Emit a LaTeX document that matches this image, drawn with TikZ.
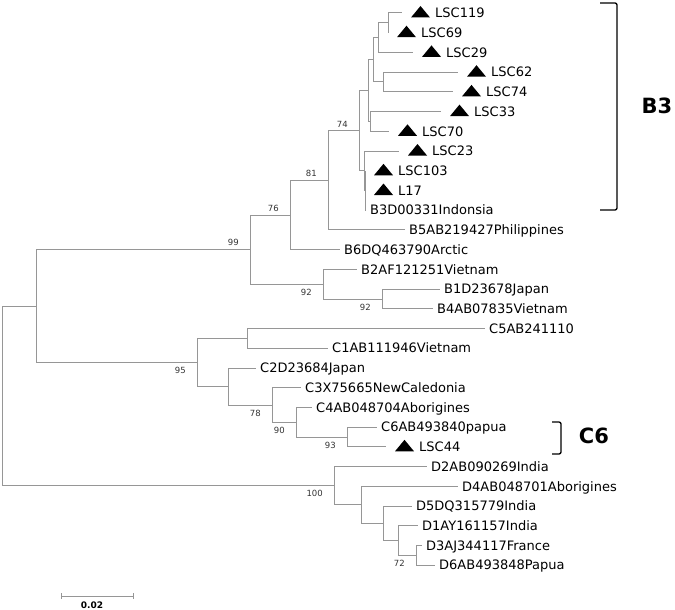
\documentclass[tikz,border=0pt]{standalone}
\usepackage{fontspec}
\setmainfont{DejaVu Sans}
\usetikzlibrary{positioning,calc}
\definecolor{branchgray}{RGB}{150,150,150}
\tikzset{
  br/.style={draw=branchgray,line width=1pt},
  leaf/.style={anchor=west,inner xsep=4pt,inner ysep=1pt,
               text height=9.5pt,text depth=0pt,font=\fontsize{13}{15}\selectfont},
  lscleaf/.style={leaf,inner xsep=33pt},
  bs/.style={inner sep=0pt,font=\fontsize{8.5}{10}\selectfont,text=black!80},
  clade/.style={font=\fontsize{21}{24}\selectfont\bfseries},
  brk/.style={draw=black,line width=1.3pt,rounded corners=2pt},
}
\begin{document}
\begin{tikzpicture}[x=1pt,y=-1pt]
  \useasboundingbox (0,0) rectangle (675,610);
  % internal nodes of the tree
  \coordinate (nroot) at (2,395.9);
  \coordinate (nbc) at (36,306);
  \coordinate (nb) at (250,249.6);
  \coordinate (nb76) at (290,215);
  \coordinate (nb81) at (328,180.3);
  \coordinate (nb74) at (359,130.7);
  \coordinate (nlsca) at (368,90.6);
  \coordinate (nlscb) at (373,59.8);
  \coordinate (nlscc) at (378,37.6);
  \coordinate (nlscd) at (388,22.9);
  \coordinate (nlsce) at (383,82);
  \coordinate (nlscf) at (370,121.5);
  \coordinate (nlscg) at (364,170.8);
  \coordinate (nlsch) at (365,190.5);
  \coordinate (nb92) at (323,284.2);
  \coordinate (nb92b) at (382,299);
  \coordinate (nc95) at (197,362.5);
  \coordinate (nc5) at (247,338.4);
  \coordinate (nc2) at (228,386.5);
  \coordinate (nc78) at (272,405);
  \coordinate (nc90) at (296,422.2);
  \coordinate (nc93) at (347,437);
  \coordinate (nd100) at (334,485.7);
  \coordinate (nd4) at (361,504.8);
  \coordinate (nd5) at (383,523.3);
  \coordinate (nd1) at (398,540.5);
  \coordinate (nd72) at (416,555.3);

  % leaves
  \node[lscleaf] (lsc119) at (402,13) {LSC119};
  \node[lscleaf] (lsc69) at (388,32.7) {LSC69};
  \node[lscleaf] (lsc29) at (413,52.4) {LSC29};
  \node[lscleaf] (lsc62) at (458,72.2) {LSC62};
  \node[lscleaf] (lsc74) at (453,91.9) {LSC74};
  \node[lscleaf] (lsc33) at (441,111.6) {LSC33};
  \node[lscleaf] (lsc70) at (389,131.3) {LSC70};
  \node[lscleaf] (lsc23) at (399,151) {LSC23};
  \node[lscleaf] (lsc103) at (365,170.8) {LSC103};
  \node[lscleaf] (l17) at (365,190.5) {L17};
  \node[leaf] (b3d) at (366,210.2) {B3D00331Indonsia};
  \node[leaf] (b5) at (405,229.9) {B5AB219427Philippines};
  \node[leaf] (b6) at (340,249.6) {B6DQ463790Arctic};
  \node[leaf] (b2) at (357,269.4) {B2AF121251Vietnam};
  \node[leaf] (b1) at (440,289.1) {B1D23678Japan};
  \node[leaf] (b4) at (433,308.8) {B4AB07835Vietnam};
  \node[leaf] (c5) at (485,328.5) {C5AB241110};
  \node[leaf] (c1) at (328,348.2) {C1AB111946Vietnam};
  \node[leaf] (c2) at (256,368) {C2D23684Japan};
  \node[leaf] (c3) at (301,387.7) {C3X75665NewCaledonia};
  \node[leaf] (c4) at (312,407.4) {C4AB048704Aborigines};
  \node[leaf] (c6) at (377,427.1) {C6AB493840papua};
  \node[lscleaf] (lsc44) at (386,446.8) {LSC44};
  \node[leaf] (d2) at (427,466.6) {D2AB090269India};
  \node[leaf] (d4) at (458,486.3) {D4AB048701Aborigines};
  \node[leaf] (d5) at (412,506) {D5DQ315779India};
  \node[leaf] (d1) at (418,525.7) {D1AY161157India};
  \node[leaf] (d3) at (422,545.4) {D3AJ344117France};
  \node[leaf] (d6) at (435,565.2) {D6AB493848Papua};

  % branches
  \foreach \p/\c in {nroot/nbc, nroot/nd100, nbc/nb, nbc/nc95,
      nb/nb76, nb/nb92, nb76/nb81, nb76/b6.west, nb81/nb74, nb81/b5.west,
      nb74/nlsca, nb74/nlscg, nlsca/nlscb, nlsca/nlscf,
      nlscb/nlscc, nlscb/nlsce, nlscc/nlscd, nlscc/lsc29.west,
      nlscd/lsc119.west, nlscd/lsc69.west, nlsce/lsc62.west, nlsce/lsc74.west,
      nlscf/lsc33.west, nlscf/lsc70.west, nlscg/lsc23.west, nlscg/nlsch,
      nlsch/lsc103.west, nlsch/l17.west, nlsch/b3d.west,
      nb92/b2.west, nb92/nb92b, nb92b/b1.west, nb92b/b4.west,
      nc95/nc5, nc95/nc2, nc5/c5.west, nc5/c1.west,
      nc2/c2.west, nc2/nc78, nc78/c3.west, nc78/nc90,
      nc90/c4.west, nc90/nc93, nc93/c6.west, nc93/lsc44.west,
      nd100/d2.west, nd100/nd4, nd4/d4.west, nd4/nd5,
      nd5/d5.west, nd5/nd1, nd1/d1.west, nd1/nd72,
      nd72/d3.west, nd72/d6.west}
    \draw[br] (\p) |- (\c);

  % markers for the LSC isolates
  \foreach \t in {lsc119,lsc69,lsc29,lsc62,lsc74,lsc33,lsc70,lsc23,lsc103,l17,lsc44}
    \fill ([xshift=9pt,yshift=-4.5pt]\t.west) -- ++(19,0) -- ++(-9.5,-11.5) -- cycle;

  % bootstrap values
  \node[bs,anchor=south east] (bs99) at ([xshift=-11pt,yshift=3.5pt]nb) {99};
  \node[bs,anchor=south east] (bs76) at ([xshift=-11pt,yshift=3.5pt]nb76) {76};
  \node[bs,anchor=south east] (bs81) at ([xshift=-11pt,yshift=3.5pt]nb81) {81};
  \node[bs,anchor=south east] (bs74) at ([xshift=-11pt,yshift=3.5pt]nb74) {74};
  \node[bs,anchor=north east] (bs92) at ([xshift=-11pt,yshift=-4.5pt]nb92) {92};
  \node[bs,anchor=north east] (bs92b) at ([xshift=-11pt,yshift=-4.5pt]nb92b) {92};
  \node[bs,anchor=north east] (bs95) at ([xshift=-11pt,yshift=-4.5pt]nc95) {95};
  \node[bs,anchor=north east] (bs78) at ([xshift=-11pt,yshift=-4.5pt]nc78) {78};
  \node[bs,anchor=north east] (bs90) at ([xshift=-11pt,yshift=-4.5pt]nc90) {90};
  \node[bs,anchor=north east] (bs93) at ([xshift=-11pt,yshift=-4.5pt]nc93) {93};
  \node[bs,anchor=north east] (bs100) at ([xshift=-11pt,yshift=-4.5pt]nd100) {100};
  \node[bs,anchor=north east] (bs72) at ([xshift=-11pt,yshift=-4.5pt]nd72) {72};

  % clade brackets
  \draw[brk] (600,3) -- (617,3) -- (617,210) -- (600,210);
  \node[clade] (b3lab) at (657,106) {B3};
  \draw[brk] (552,422) -- (561,422) -- (561,454) -- (552,454);
  \node[clade] (c6lab) at (594,436) {C6};

  % scale bar
  \coordinate (sb0) at (61,596);
  \coordinate (sb1) at (133,596);
  \draw[br] (sb0) -- (sb1);
  \draw[br] ([yshift=3pt]sb0) -- ([yshift=-3pt]sb0);
  \draw[br] ([yshift=3pt]sb1) -- ([yshift=-3pt]sb1);
  \node[font=\fontsize{9}{10}\selectfont\bfseries] (sblab) at (92,605) {0.02};
\end{tikzpicture}
\end{document}
